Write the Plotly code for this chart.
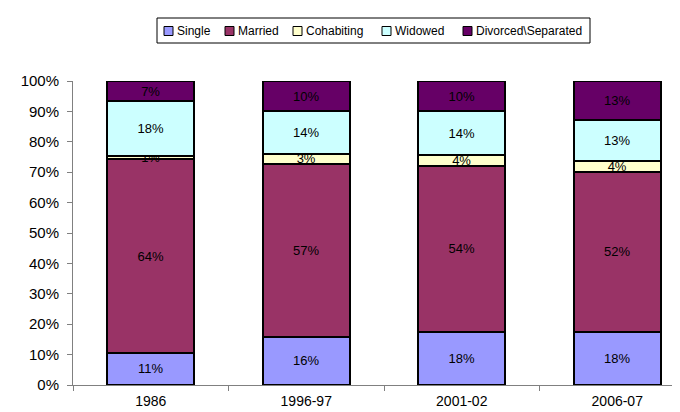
import plotly.graph_objects as go

categories = ["1986", "1996-97", "2001-02", "2006-07"]
single = [10.6, 15.8, 17.6, 17.6]
married = [63.6, 57.0, 54.3, 52.4]
cohabiting = [1.1, 3.2, 3.8, 3.8]
widowed = [18.1, 14.0, 14.3, 13.3]
divorced = [6.6, 10.0, 10.0, 12.9]

series = [
    ("Single", single, "#9999FF"),
    ("Married", married, "#993366"),
    ("Cohabiting", cohabiting, "#FFFFCC"),
    ("Widowed", widowed, "#CCFFFF"),
    ("Divorced\\Separated", divorced, "#660066"),
]

W, H = 680, 412
ML, MR, MT, MB = 65, 0, 73, 35
PW, PH = W - ML - MR, H - MT - MB


def px_x(p):
    return (p - ML) / PW


def px_y(p):
    return (H - MB - p) / PH


FONT = "Liberation Sans, Arial, sans-serif"

fig = go.Figure()
for name, vals, col in series:
    fig.add_trace(go.Bar(
        x=categories, y=vals, name=name,
        marker=dict(color=col, line=dict(color="#000000", width=2)),
        texttemplate="%{y:.0f}%", textposition="inside",
        insidetextanchor="middle",
        textfont=dict(family=FONT, size=13, color="#000000"),
        width=0.56, hoverinfo="skip", showlegend=False,
    ))

# legend drawn as shapes + text annotations
legend_sq_x = [156, 217, 285, 374, 455]
shapes = [dict(type="rect", xref="paper", yref="paper",
               x0=px_x(149), x1=px_x(582), y0=px_y(35), y1=px_y(10),
               line=dict(color="#000000", width=1), fillcolor="white", layer="above")]
annotations = []
for (name, vals, col), sx in zip(series, legend_sq_x):
    shapes.append(dict(type="rect", xref="paper", yref="paper",
                       x0=px_x(sx), x1=px_x(sx + 9), y0=px_y(27.5), y1=px_y(18.5),
                       line=dict(color="#000000", width=1), fillcolor=col, layer="above"))
    annotations.append(dict(xref="paper", yref="paper", x=px_x(sx + 11), y=px_y(23),
                            xanchor="left", yanchor="middle", showarrow=False,
                            text=name, font=dict(family=FONT, size=12, color="#000000")))

fig.update_layout(
    barmode="stack",
    width=W, height=H,
    margin=dict(l=ML, r=MR, t=MT, b=MB, autoexpand=False),
    paper_bgcolor="white", plot_bgcolor="white",
    font=dict(family=FONT, size=12, color="#000000"),
    uniformtext=dict(minsize=13, mode="show"),
    showlegend=False,
    shapes=shapes, annotations=annotations,
)
fig.update_xaxes(
    type="category", automargin=False,
    range=[-0.5, 3.455], showline=True, linecolor="#808080", linewidth=1,
    ticks="outside", tickson="boundaries", ticklen=5, tickcolor="#808080",
    showgrid=False, tickfont=dict(size=14), ticklabelstandoff=3,
)
fig.update_yaxes(
    automargin=False,
    range=[0, 100], dtick=10, ticksuffix="%", showline=True,
    linecolor="#808080", linewidth=1, ticks="outside", ticklen=5,
    tickcolor="#808080", showgrid=False, zeroline=False, tickfont=dict(size=15),
    ticklabelstandoff=5,
)

fig.write_html("out.html")
